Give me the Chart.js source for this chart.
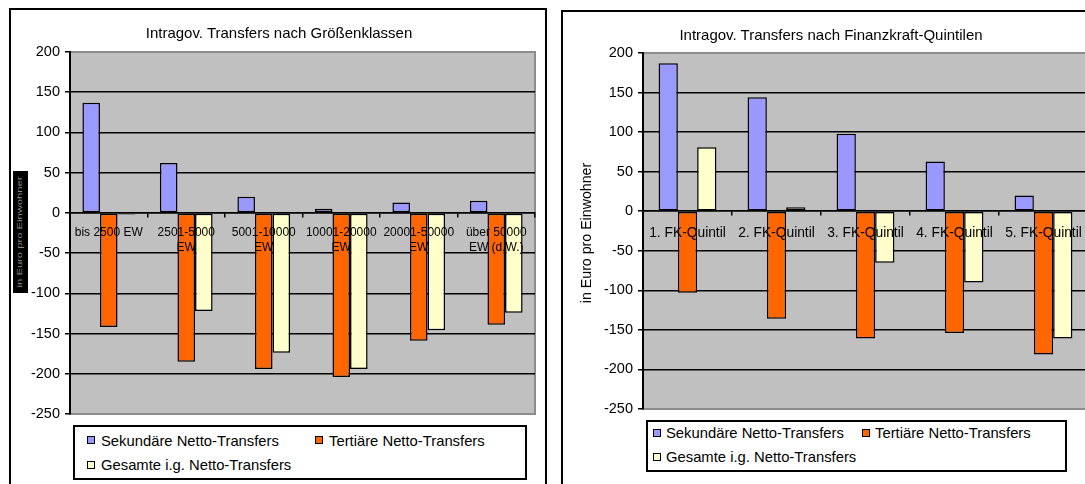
<!DOCTYPE html>
<html>
<head>
<meta charset="utf-8">
<script src="https://cdn.jsdelivr.net/npm/chart.js@4/dist/chart.umd.min.js"></script>
<style>
body { margin: 0; width: 1085px; height: 484px; overflow: hidden; background: #fff; position: relative;
       font-family: "Liberation Sans", Arial, sans-serif; font-size: 14.8px; color: #000; }
.frame { position: absolute; border: 2px solid #000; box-sizing: border-box; }
canvas { position: absolute; top: 0; }
.title { position: absolute; text-align: center; line-height: 16px; font-size: 15px; white-space: nowrap; }
.legend { position: absolute; border: 2px solid #000; box-sizing: border-box; background: #fff; }
.item { position: absolute; line-height: 16px; white-space: nowrap; }
.sq { position: absolute; width: 8px; height: 8px; border: 1.5px solid #000; box-sizing: border-box; }
.ytitle { position: absolute; width: 200px; height: 16px; line-height: 16px; text-align: center; font-size: 14.2px;
          transform: rotate(-90deg); white-space: nowrap; }
.glitch { position: absolute; left: 13px; top: 171px; width: 15px; height: 122px; background: #000; overflow: hidden; }
.glitch span { position: absolute; left: -54px; top: 54px; width: 122px; height: 14px; line-height: 14px;
               font-size: 8px; color: #8a8a8a; text-align: center; transform: rotate(-90deg) scaleX(1.4); white-space: nowrap; }
</style>
</head>
<body>
<div class="frame" style="left:9px; top:8px; width:538px; height:490px;"></div>
<div class="frame" style="left:561px; top:10px; width:540px; height:490px;"></div>

<canvas id="links" width="548" height="484" style="left:0px;"></canvas>
<canvas id="rechts" width="552" height="484" style="left:548px;"></canvas>

<div class="title" style="left:0px; top:25px; width:558px;">Intragov. Transfers nach Größenklassen</div>
<div class="title" style="left:580px; top:27px; width:502px;">Intragov. Transfers nach Finanzkraft-Quintilen</div>

<div class="glitch"><span>in Euro pro Einwohner</span></div>
<div class="ytitle" style="left:486px; top:225px;">in Euro pro Einwohner</div>

<div class="legend" style="left:73px; top:425px; width:454px; height:55px;"></div>
<div class="sq" style="left:87px; top:436px; background:#9999ff;"></div>
<div class="item" style="left:101px; top:433px;">Sekundäre Netto-Transfers</div>
<div class="sq" style="left:315px; top:436px; background:#ff6600;"></div>
<div class="item" style="left:329px; top:433px;">Tertiäre Netto-Transfers</div>
<div class="sq" style="left:87px; top:461px; background:#ffffcc;"></div>
<div class="item" style="left:101px; top:457px;">Gesamte i.g. Netto-Transfers</div>

<div class="legend" style="left:646px; top:420px; width:421px; height:52px;"></div>
<div class="sq" style="left:653px; top:429px; background:#9999ff;"></div>
<div class="item" style="left:666px; top:425px;">Sekundäre Netto-Transfers</div>
<div class="sq" style="left:862px; top:429px; background:#ff6600;"></div>
<div class="item" style="left:875px; top:425px;">Tertiäre Netto-Transfers</div>
<div class="sq" style="left:653px; top:453px; background:#ffffcc;"></div>
<div class="item" style="left:666px; top:449px;">Gesamte i.g. Netto-Transfers</div>

<script>
// Werte (Euro pro Einwohner)
var groessenKlassen = ["bis 2500 EW", ["2501-5000", "EW"], ["5001-10000", "EW"],
	["10001-20000", "EW"], ["20001-50000", "EW"], ["über 50000", "EW (d.W.)"]];
var groessenSek = [137, 62, 20, 5, 13, 15];
var groessenTert = [-142, -185, -194, -204, -159, -139];
var groessenGes = [-2, -122, -174, -194, -146, -124];

var quintile = ["1. FK-Quintil", "2. FK-Quintil", "3. FK-Quintil", "4. FK-Quintil", "5. FK-Quintil"];
var quintilSek = [187, 144, 98, 63, 20];
var quintilTert = [-103, -136, -161, -154, -181];
var quintilGes = [81, 5, -65, -90, -161];

var yMin = -250;
var yMax = 200;
var yStep = 50;

var serienNamen = ["Sekundäre Netto-Transfers", "Tertiäre Netto-Transfers", "Gesamte i.g. Netto-Transfers"];
var farben = ["#9999ff", "#ff6600", "#ffffcc"];

Chart.defaults.font.family = '"Liberation Sans", Arial, sans-serif';
Chart.defaults.font.size = 14.5;
Chart.defaults.color = "#000";

var plotBg = {
	id: 'plotBg',
	beforeDraw: function(chart) {
		var a = chart.chartArea;
		var c = chart.ctx;
		c.save();
		c.fillStyle = "#c0c0c0";
		c.fillRect(a.left, a.top, a.right - a.left, a.bottom - a.top);
		c.strokeStyle = "#8c8c8c";
		c.lineWidth = 2;
		c.strokeRect(a.left, a.top, a.right - a.left, a.bottom - a.top);
		c.restore();
	}
};

function zeichne(id, labels, sek, tert, ges, catPct, pad, labelPad, labelFont) {
	var werte = [sek, tert, ges];
	var datasets = [];
	for (var i = 0; i < 3; i++) {
		datasets.push({
			label: serienNamen[i],
			data: werte[i],
			backgroundColor: farben[i],
			borderColor: "#000",
			borderWidth: 1.5,
			borderSkipped: false,
			categoryPercentage: catPct,
			barPercentage: 1
		});
	}
	return new Chart(document.getElementById(id), {
		type: 'bar',
		data: { labels: labels, datasets: datasets },
		plugins: [plotBg],
		options: {
			responsive: false,
			animation: false,
			layout: { padding: pad },
			plugins: { legend: { display: false }, title: { display: false }, tooltip: { enabled: false } },
			scales: {
				x: {
					position: { y: 0 },
					grid: { display: true, drawOnChartArea: false, drawTicks: true, tickLength: 4,
						color: "#000", lineWidth: 1.5, offset: true },
					border: { display: true, color: "#000", width: 1.5 },
					// Beschriftung liegt über den Balken
					ticks: { z: 1, padding: labelPad, maxRotation: 0, autoSkip: false, color: "#000",
						font: labelFont }
				},
				y: {
					min: yMin,
					max: yMax,
					afterFit: function(s) { s.width = 60; },
					ticks: { stepSize: yStep, padding: 5, color: "#000" },
					grid: {
						color: function(ctx) {
							if (ctx.tick && (ctx.tick.value === yMax || ctx.tick.value === yMin)) return "rgba(0,0,0,0)";
							return "#000";
						},
						lineWidth: 1.5,
						tickColor: "#000",
						tickLength: 5
					},
					border: { display: true, color: "#000", width: 2 }
				}
			}
		}
	});
}

zeichne("links", groessenKlassen, groessenSek, groessenTert, groessenGes, 0.68,
	{ left: 10, top: 52, right: 13, bottom: 70 }, 8, { size: 12, lineHeight: "15.3px" });
zeichne("rechts", quintile, quintilSek, quintilTert, quintilGes, 0.65,
	{ left: 35, top: 53, right: 12, bottom: 75 }, 10, { size: 13.8, lineHeight: 1.1 });
</script>
</body>
</html>
